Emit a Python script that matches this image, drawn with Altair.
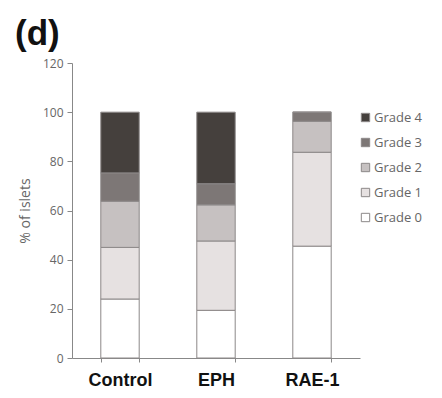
import altair as alt
import pandas as pd

groups = ["Control", "EPH", "RAE-1"]
grades = ["Grade 0", "Grade 1", "Grade 2", "Grade 3", "Grade 4"]
grade0 = [24.0, 19.4, 45.5]
grade1 = [21.0, 28.2, 38.2]
grade2 = [18.8, 14.7, 12.6]
grade3 = [11.5, 8.6, 3.7]
grade4 = [24.7, 29.1, 0.0]
colors = ["#ffffff", "#e6e1e1", "#c6c1c1", "#7d7776", "#45403d"]

series = [grade0, grade1, grade2, grade3, grade4]
rows = []
for gi, (gname, vals) in enumerate(zip(grades, series)):
    for grp, v in zip(groups, vals):
        rows.append({"group": grp, "grade": gname, "order": gi, "value": v})
df = pd.DataFrame(rows)

legend_domain = grades[::-1]
legend_range = colors[::-1]

chart = alt.Chart(df).mark_bar(stroke="#8c8888", strokeWidth=1).encode(
    x=alt.X("group:N", sort=groups, title=None,
            scale=alt.Scale(paddingInner=0.6, paddingOuter=0.3),
            axis=alt.Axis(labelAngle=0, labelFont="Liberation Sans", labelFontSize=18,
                          labelFontWeight="bold", labelColor="#111111", labelPadding=9,
                          tickBand="extent", tickSize=4, tickColor="#888888",
                          domainColor="#888888")),
    y=alt.Y("value:Q", stack="zero", title="% of islets",
            scale=alt.Scale(domain=[0, 120]),
            axis=alt.Axis(values=[0, 20, 40, 60, 80, 100, 120], grid=False,
                          labelFont="Open Sans", labelFontSize=12, labelColor="#666666",
                          tickSize=5, tickColor="#888888", domainColor="#888888",
                          titleFont="Open Sans", titleFontSize=14, titleFontWeight="normal",
                          titleColor="#666666", titlePadding=10, labelPadding=4)),
    color=alt.Color("grade:N", scale=alt.Scale(domain=legend_domain, range=legend_range),
                    legend=alt.Legend(title=None, orient="none", legendX=287, legendY=48,
                                      symbolType="square", symbolSize=70,
                                      symbolStrokeColor="#8c8888", symbolStrokeWidth=1,
                                      labelFont="Open Sans", labelFontSize=13,
                                      labelColor="#666666", rowPadding=11, labelOffset=2)),
    order=alt.Order("order:Q", sort="ascending"),
).properties(
    width=288, height=295,
    title=alt.TitleParams("(d)", anchor="start", frame="group", dx=-57, offset=5,
                          fontSize=35, font="Liberation Sans", fontWeight="bold",
                          color="#111111"),
    autosize=alt.AutoSizeParams(type="none"),
    padding={"left": 64, "top": 55, "right": 74, "bottom": 32},
).configure_view(stroke=None)

chart.save("out.html", embed_options={"renderer": "svg", "actions": False})
